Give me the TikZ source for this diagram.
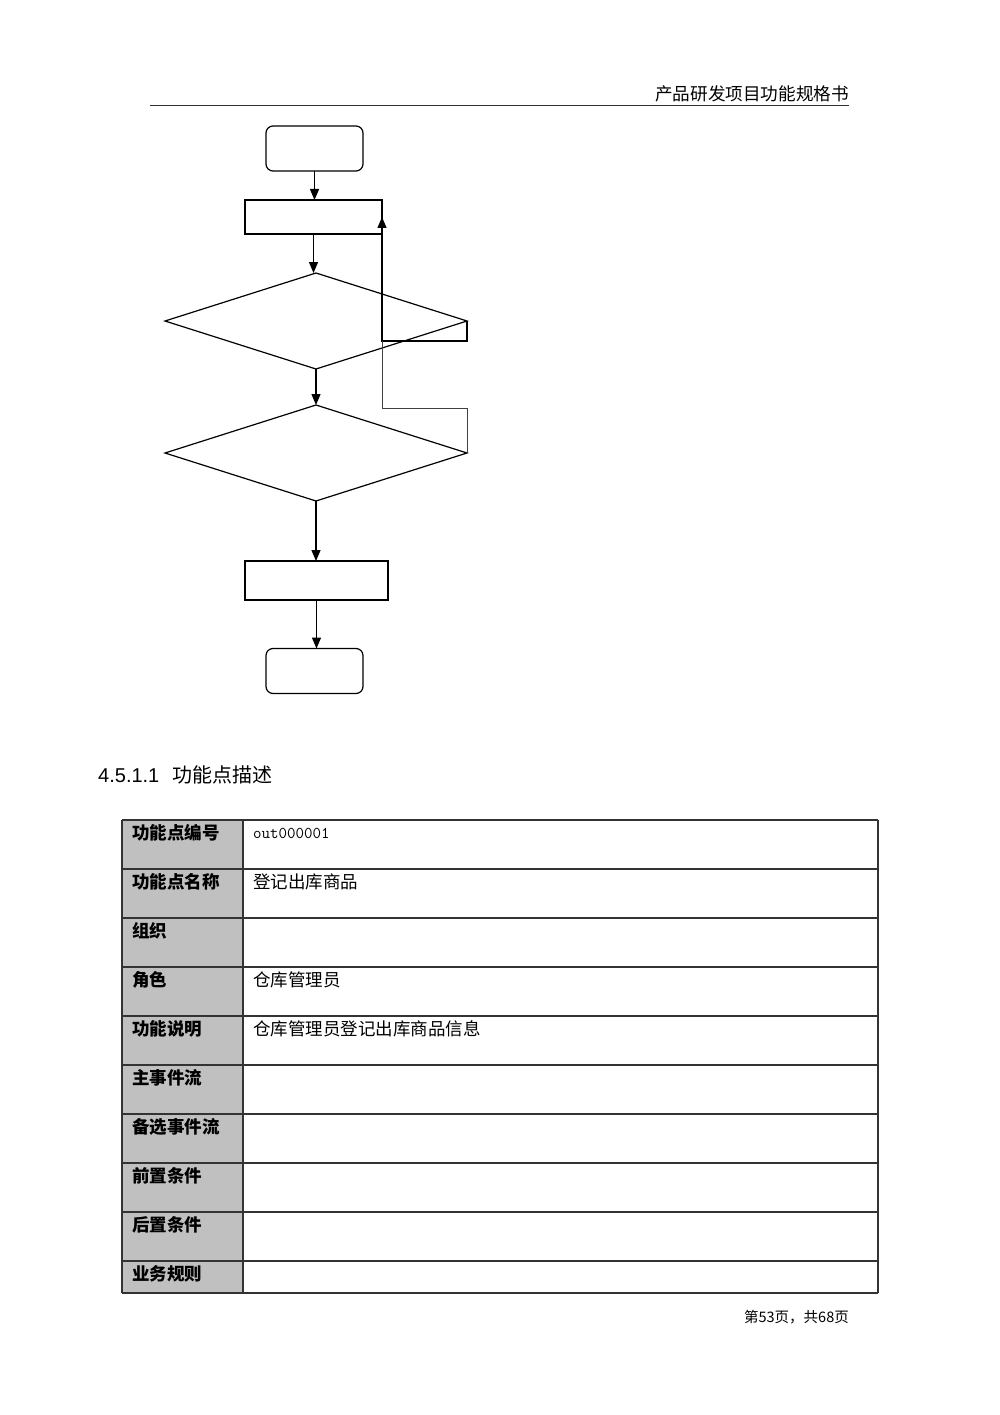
\documentclass[tikz,border=0pt]{standalone}
\usepackage{fontspec}
\usetikzlibrary{shapes.geometric,arrows.meta}
\newfontfamily\cjk{Noto Sans CJK SC}
\newfontfamily\latinsans{Liberation Sans}
\definecolor{cellgray}{HTML}{C0C0C0}
\definecolor{rulegray}{HTML}{333333}
\tikzset{
  flow/.style={draw=black, line width=1.2pt, inner sep=0pt, outer sep=0pt},
  termbox/.style={flow, rectangle, rounded corners=7pt, minimum width=97pt, minimum height=45pt},
  procbox/.style={flow, rectangle},
  decbox/.style={flow, diamond, aspect=3.15, minimum width=302pt, minimum height=96pt},
  arr/.style={line width=1.3pt, -{Triangle[length=11pt,width=9pt]}},
  thinline/.style={line width=0.9pt, draw=black!75},
  lefttxt/.style={anchor=west, inner sep=0pt, font=\cjk\bfseries\fontsize{17.5}{17.5}\selectfont},
  righttxt/.style={anchor=west, inner sep=0pt, font=\cjk\fontsize{17.5}{17.5}\selectfont},
  cellrule/.style={draw=rulegray, line width=1.3pt}
}
\begin{document}
\begin{tikzpicture}[x=1pt,y=-1pt]
\useasboundingbox (0,0) rectangle (1000,1415);
% header
\node[anchor=south east, inner sep=0pt, font=\cjk\fontsize{17.6}{17.6}\selectfont] (hdr) at (849,102) {产品研发项目功能规格书};
\draw[line width=1.8pt, draw=rulegray] (150,105.5) -- (849,105.5);

% flowchart
\node[termbox] (start) at (314.5,148.5) {};
\node[procbox, minimum width=137pt, minimum height=34pt] (r1) at (313.5,217) {};
\node[decbox] (d1) at (316,321) {};
\node[decbox] (d2) at (316,453) {};
\node[procbox, minimum width=143pt, minimum height=39pt] (r2) at (316.5,580.5) {};
\node[termbox] (stop) at (314.5,671) {};

\draw[arr] (start.south) -- (start.south |- r1.north);
\draw[arr] (r1.south) -- (r1.south |- d1.north);
\draw[arr] (d1.south) -- (d2.north);
\draw[arr] (d2.south) -- (d2.south |- r2.north);
\draw[arr] (r2.south) -- (r2.south |- stop.north);

\coordinate (j) at (382,341);
\draw[arr] (d1.east) -- (d1.east |- j) -- (j) -- (r1.east);
\draw[thinline] (d2.east) -- ++(0,-45) -| (j);

% heading
\node[anchor=west, inner sep=0pt] (head) at (98,775) {{\latinsans\fontsize{20}{20}\selectfont 4.5.1.1}\hspace{13pt}{\cjk\fontsize{20}{20}\selectfont 功能点描述}};

% table
\fill[cellgray] (122,820) rectangle (243,1293);
\foreach \y in {820,869,918,967,1016,1065,1114,1163,1212,1261,1293}{
  \draw[cellrule] (122,\y) -- (878,\y);
}
\draw[cellrule] (122,820) -- (122,1293);
\draw[cellrule] (243,820) -- (243,1293);
\draw[cellrule] (878,820) -- (878,1293);

\node[lefttxt] (l1) at (132,833) {功能点编号};
\node[lefttxt] (l2) at (132,882) {功能点名称};
\node[lefttxt] (l3) at (132,931) {组织};
\node[lefttxt] (l4) at (132,980) {角色};
\node[lefttxt] (l5) at (132,1029) {功能说明};
\node[lefttxt] (l6) at (132,1078) {主事件流};
\node[lefttxt] (l7) at (132,1127) {备选事件流};
\node[lefttxt] (l8) at (132,1176) {前置条件};
\node[lefttxt] (l9) at (132,1225) {后置条件};
\node[lefttxt] (l10) at (132,1274) {业务规则};

\node[righttxt, font=\ttfamily\fontsize{16.5}{16.5}\selectfont] (v1) at (253,833) {out000001};
\node[righttxt] (v2) at (253,882) {登记出库商品};
\node[righttxt] (v4) at (253,980) {仓库管理员};
\node[righttxt] (v5) at (253,1029) {仓库管理员登记出库商品信息};

% footer
\node[anchor=east, inner sep=0pt, font=\cjk\fontsize{14.5}{14.5}\selectfont] (ftr) at (849,1317) {第53页，共68页};
\end{tikzpicture}
\end{document}
